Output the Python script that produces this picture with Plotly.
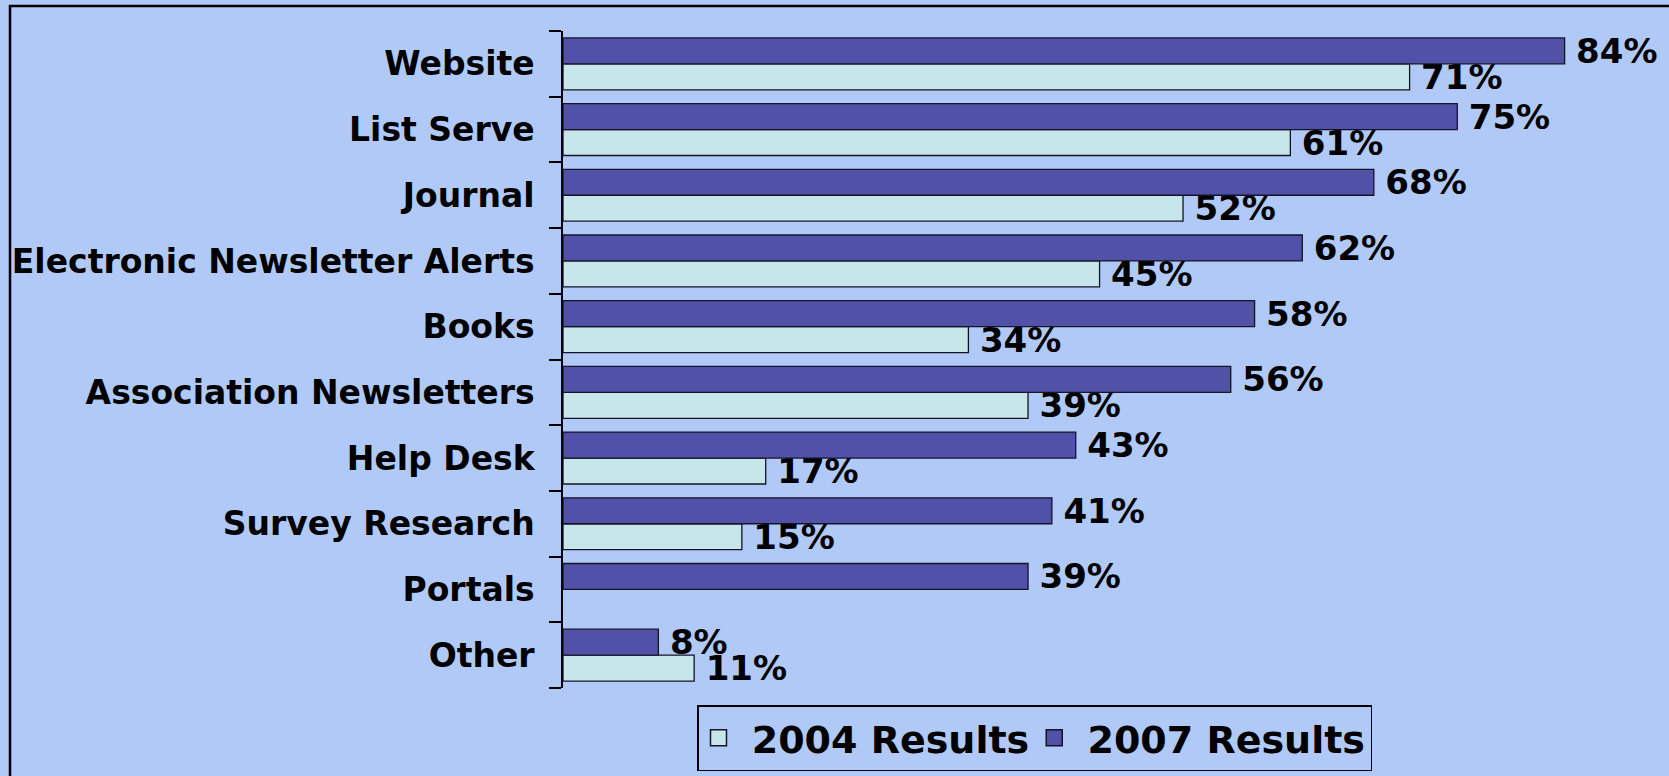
import plotly.graph_objects as go

categories = ["Website", "List Serve", "Journal", "Electronic Newsletter Alerts", "Books",
              "Association Newsletters", "Help Desk", "Survey Research", "Portals", "Other"]
results_2004 = [71, 61, 52, 45, 34, 39, 17, 15, None, 11]
results_2007 = [84, 75, 68, 62, 58, 56, 43, 41, 39, 8]
series_names = ["2004 Results", "2007 Results"]

BG = "#B0C9F7"
FONT = "DejaVu Sans"
C2004 = "#C6E6EA"
C2007 = "#5151A8"
EDGE = "#141428"

W, H = 1669, 776
ML, MR, MT, MB = 563, 9, 31, 88
pw, ph = W - ML - MR, H - MT - MB


def lbl(vals):
    return ["\u2005%d%%" % v if v is not None else "" for v in vals]


fig = go.Figure()
for name, vals, col in [(series_names[0], results_2004, C2004), (series_names[1], results_2007, C2007)]:
    fig.add_trace(go.Bar(
        name=name, y=categories, x=vals, orientation="h", showlegend=False,
        marker=dict(color=col, line=dict(color=EDGE, width=1.3)),
        text=lbl(vals), textposition="outside", cliponaxis=False,
        constraintext="none",
        textfont=dict(family=FONT, size=34, color="black", weight="bold"),
    ))
# legend entries (larger square swatches)
for name, col in [(series_names[0], C2004), (series_names[1], C2007)]:
    fig.add_trace(go.Scatter(
        name="\u00a0" + name, x=[None], y=[None], mode="markers",
        marker=dict(symbol="square", size=16, color=col, line=dict(color=EDGE, width=1.5)),
    ))

fig.update_layout(
    width=W, height=H,
    margin=dict(l=ML, r=MR, t=MT, b=MB, autoexpand=False),
    paper_bgcolor=BG, plot_bgcolor=BG,
    barmode="group", bargap=0.21, bargroupgap=0,
    font=dict(family=FONT, color="black"),
    xaxis=dict(visible=False, range=[0, 92], fixedrange=True),
    yaxis=dict(
        categoryorder="array", categoryarray=categories[::-1],
        showline=True, linecolor="black", linewidth=1.5,
        ticks="outside", tickson="boundaries", ticklen=12, tickwidth=1.5,
        tickcolor="black", ticklabelstandoff=20, showgrid=False, zeroline=False,
        tickfont=dict(family=FONT, size=33, color="black", weight="bold"),
        fixedrange=True,
    ),
    showlegend=True,
    legend=dict(
        orientation="h", x=(697 - ML) / pw, y=-(705 - (MT + ph)) / ph,
        xanchor="left", yanchor="top",
        bgcolor=BG, bordercolor="black", borderwidth=1.5,
        font=dict(family=FONT, size=38, color="black", weight="bold"),
        traceorder="normal", itemsizing="trace",
    ),
    shapes=[dict(
        type="rect", xref="paper", yref="paper",
        x0=(10 - ML) / pw, x1=(W + 10 - ML) / pw,
        y0=-(H + 10 - (MT + ph)) / ph, y1=1 + (MT - 6) / ph,
        line=dict(color="black", width=2.5), fillcolor="rgba(0,0,0,0)", layer="below",
    )],
)

fig.write_html(
    "out.html",
    config={"displayModeBar": False},
    post_script="document.body.style.margin='0px';document.body.style.overflow='hidden';",
)
